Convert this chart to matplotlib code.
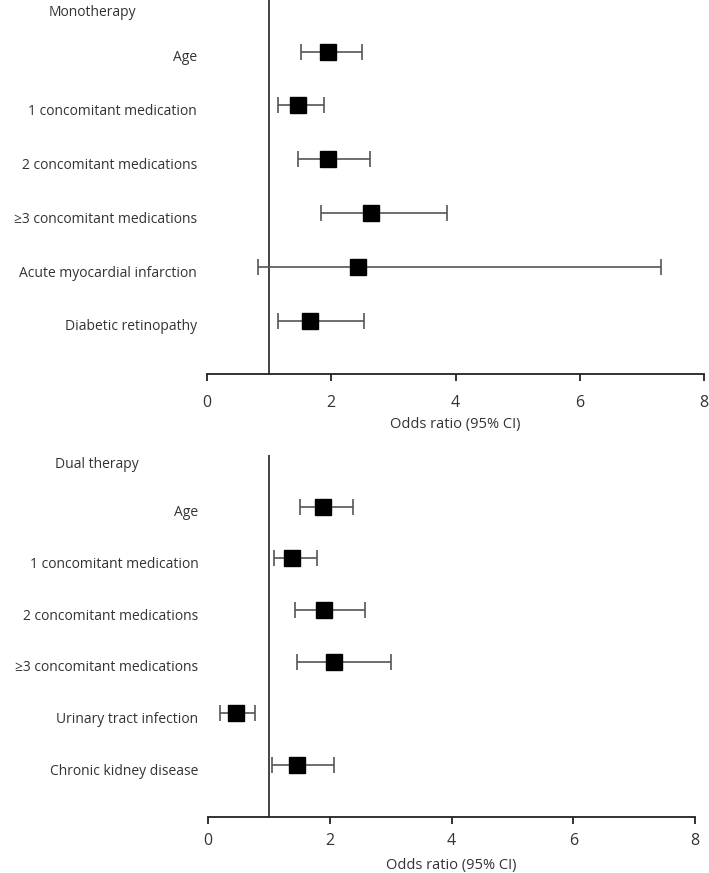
import matplotlib
matplotlib.use("Agg")
import matplotlib.pyplot as plt

plt.rcParams['font.family'] = ['Open Sans', 'DejaVu Sans']

mono_labels = ["Age", "1 concomitant medication", "2 concomitant medications",
               "\u22653 concomitant medications", "Acute myocardial infarction",
               "Diabetic retinopathy"]
mono_or = [1.95, 1.46, 1.95, 2.64, 2.43, 1.66]
mono_lo = [1.52, 1.14, 1.46, 1.83, 0.82, 1.14]
mono_hi = [2.50, 1.89, 2.63, 3.87, 7.30, 2.53]

dual_labels = ["Age", "1 concomitant medication", "2 concomitant medications",
               "\u22653 concomitant medications", "Urinary tract infection",
               "Chronic kidney disease"]
dual_or = [1.89, 1.38, 1.91, 2.07, 0.46, 1.46]
dual_lo = [1.50, 1.08, 1.43, 1.45, 0.20, 1.05]
dual_hi = [2.38, 1.79, 2.58, 3.00, 0.76, 2.06]

xticks = [0, 2, 4, 6, 8]
xlabel = "Odds ratio (95% CI)"

W, H = 709, 873
fig = plt.figure(figsize=(W / 100, H / 100), dpi=100)

def panel(rect, ylim, labels, orv, lo, hi, title, title_xy, tpad, lpad):
    ax = fig.add_axes(rect)
    ys = list(range(len(labels)))
    xerr = [[o - l for o, l in zip(orv, lo)], [h - o for o, h in zip(orv, hi)]]
    ax.errorbar(orv, ys, xerr=xerr, fmt='none', ecolor='#555555', elinewidth=1.2,
                capsize=5.5, capthick=1.2, clip_on=False, zorder=2)
    ax.plot(orv, ys, 's', color='black', markersize=11.5, clip_on=False, zorder=3)
    ax.axvline(1, color='#222222', lw=1.2, zorder=1)
    ax.set_xlim(0, 8)
    ax.set_ylim(*ylim)
    for s in ['top', 'right', 'left']:
        ax.spines[s].set_visible(False)
    ax.spines['bottom'].set_linewidth(1.3)
    ax.spines['bottom'].set_color('#222222')
    ax.set_yticks([])
    ax.set_xticks(xticks)
    ax.set_xticklabels([str(t) for t in xticks])
    ax.tick_params(axis='x', direction='out', length=5, width=1.3, color='#222222',
                   pad=tpad, labelsize=11.5, labelcolor='#333333')
    ax.set_xlabel(xlabel, fontsize=10.5, color='#333333', labelpad=lpad)
    for y, lab in zip(ys, labels):
        ax.annotate(lab, xy=(0, y), xycoords=('axes fraction', 'data'),
                    xytext=(-7, -4.5), textcoords='offset points',
                    ha='right', va='center', fontsize=10, color='#333333')
    fig.text(title_xy[0] / W, 1 - title_xy[1] / H, title, ha='left', va='center',
             fontsize=10, color='#333333')
    return ax

panel([206.7 / W, 1 - 374 / H, 497.6 / W, 374 / H], (5.99, -0.96),
      mono_labels, mono_or, mono_lo, mono_hi, "Monotherapy", (49, 12), 10, 4.5)
panel([208.3 / W, 1 - 816.7 / H, 486.7 / W, (816.7 - 455) / H], (6.0, -1.0),
      dual_labels, dual_or, dual_lo, dual_hi, "Dual therapy", (55, 465), 6.5, 7)

fig.savefig("out.png", dpi=100, facecolor='white')
